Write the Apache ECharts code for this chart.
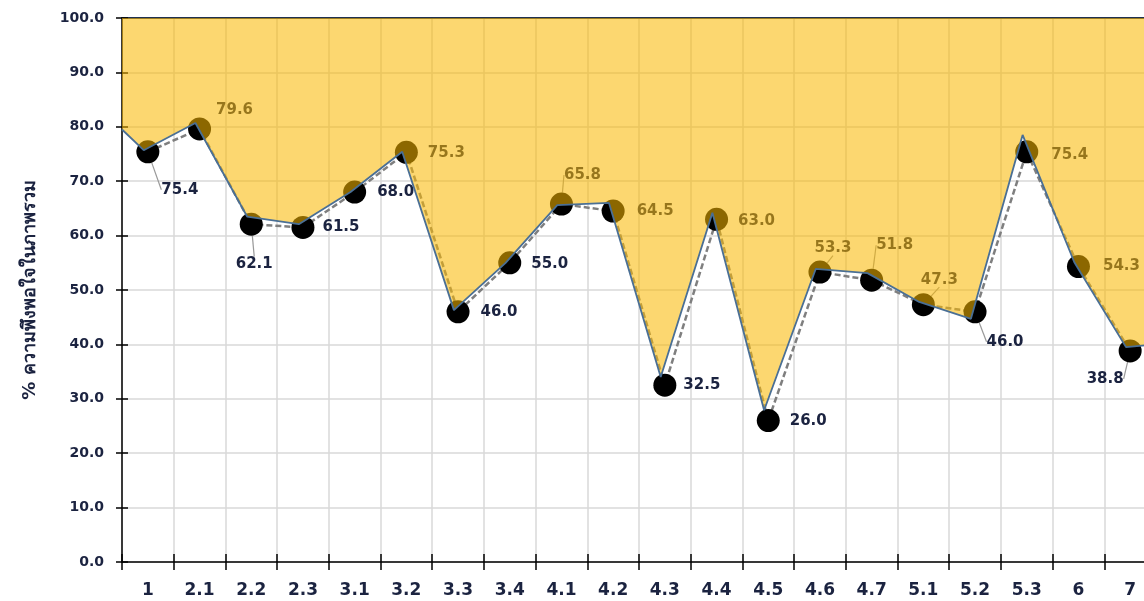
<!DOCTYPE html>
<html>
<head>
<meta charset="utf-8">
<script src="https://cdn.jsdelivr.net/npm/echarts@6/dist/echarts.min.js"></script>
<style>
html,body{margin:0;padding:0;background:#fff;overflow:hidden;width:1144px;height:601px;}
#chart{width:1156px;height:601px;}
</style>
</head>
<body>
<div id="chart"></div>
<script>
// ---- data ----
var categories = ['1','2.1','2.2','2.3','3.1','3.2','3.3','3.4','4.1','4.2','4.3','4.4','4.5','4.6','4.7','5.1','5.2','5.3','6','7'];
var satisfaction = [75.4,79.6,62.1,61.5,68.0,75.3,46.0,55.0,65.8,64.5,32.5,63.0,26.0,53.3,51.8,47.3,46.0,75.4,54.3,38.8];
// values of the filled (yellow) outline
var areaValues = [75.7,80.7,63.5,62.1,68.0,75.4,46.3,55.0,65.6,66.0,34.0,64.2,27.9,53.9,53.1,47.8,44.7,78.5,55.1,39.5];
var areaStartValue = 79.5;
var areaEndValue = 40.0;
var yTicks = [0,10,20,30,40,50,60,70,80,90,100];
var yAxisName = '% ความพึงพอใจในภาพรวม';

// ---- styles (label placement offsets, not data) ----
var labelOffsets = [[32,38],[35,-19],[3,40],[38,0],[41,0],[40,1],[41,0],[40,1],[21,-29],[42,0],[37,0],[40,2],[40,1],[13,-24],[23,-35],[16,-25],[30,30],[43,3],[43,0],[-25,28]];
var leaderIdx = [0,2,8,13,14,15,16,19];
var areaShift = -0.08;

var chart = echarts.init(document.getElementById('chart'));
var textColor = '#1b2340';
var font = '"DejaVu Sans", Verdana, sans-serif';

var areaData = [[0, areaStartValue]];
for (var i = 0; i < areaValues.length; i++) areaData.push([i + 0.5 + areaShift, areaValues[i]]);
areaData.push([categories.length, areaEndValue]);

var scatterData = satisfaction.map(function (v, i) {
  var item = { value: v };
  if (leaderIdx.indexOf(i) >= 0) item.labelLine = { show: true };
  return item;
});

var option = {
  animation: false,
  backgroundColor: '#ffffff',
  grid: { left: 122, right: 0, top: 18, bottom: 39, containLabel: false },
  xAxis: [
    {
      type: 'category', data: categories, position: 'bottom', boundaryGap: true,
      axisLine: { show: true, lineStyle: { color: '#000', width: 1.5 } },
      axisTick: { show: true, inside: false, length: 8, interval: 0, lineStyle: { color: '#000', width: 1.5 } },
      axisLabel: { color: textColor, fontFamily: font, fontWeight: 'bold', fontSize: 17, margin: 20, interval: 0 },
      splitLine: { show: true, interval: 0, lineStyle: { color: '#d9d9d9', width: 1.5 } }
    },
    {
      type: 'value', min: 0, max: categories.length, position: 'top',
      axisLine: { show: true, onZero: false, lineStyle: { color: '#1f3050', width: 2 } },
      axisTick: { show: false }, axisLabel: { show: false }, splitLine: { show: false }
    },
    {
      type: 'category', data: categories, position: 'bottom', boundaryGap: true,
      axisLine: { show: false },
      axisTick: { show: true, inside: true, length: 8, interval: 0, lineStyle: { color: '#000', width: 1.5 } },
      axisLabel: { show: false }, splitLine: { show: false }
    }
  ],
  yAxis: [
    {
      type: 'value', min: 0, max: 100, interval: 10,
      name: yAxisName, nameLocation: 'middle', nameRotate: 90, nameGap: 83,
      nameTextStyle: { color: textColor, fontFamily: font, fontWeight: 'bold', fontSize: 18 },
      axisLine: { show: true, lineStyle: { color: '#000', width: 1.5 } },
      axisTick: { show: true, inside: false, length: 6, lineStyle: { color: '#000', width: 1.5 } },
      axisLabel: { color: textColor, fontFamily: font, fontWeight: 'bold', fontSize: 14, margin: 18,
        formatter: function (v) { return v.toFixed(1); } },
      splitLine: { show: true, lineStyle: { color: '#d9d9d9', width: 1.5 } }
    },
    {
      type: 'value', min: 0, max: 100, interval: 10, position: 'left',
      axisLine: { show: false },
      axisTick: { show: true, inside: true, length: 6, lineStyle: { color: '#000', width: 1.5 } },
      axisLabel: { show: false }, splitLine: { show: false }
    }
  ],
  series: [
    {
      type: 'line', xAxisIndex: 0, yAxisIndex: 0, data: satisfaction, z: 2,
      symbol: 'none', lineStyle: { color: '#7f7f7f', width: 2.5, type: [6, 3] }
    },
    {
      type: 'scatter', xAxisIndex: 0, yAxisIndex: 0, data: scatterData, z: 3,
      symbol: 'circle', symbolSize: 23, itemStyle: { color: '#000', opacity: 1 },
      label: {
        show: true, position: 'inside', color: textColor, fontFamily: font, fontWeight: 'bold', fontSize: 15,
        formatter: function (p) { return p.value.toFixed(1); }
      },
      labelLine: { show: false, lineStyle: { color: '#999', width: 1.2 } },
      labelLayout: function (p) {
        var o = labelOffsets[p.dataIndex];
        return { dx: o[0], dy: o[1] };
      }
    },
    {
      type: 'line', xAxisIndex: 1, yAxisIndex: 0, data: areaData, z: 5,
      symbol: 'none',
      lineStyle: { color: '#4a6f95', width: 1.8 },
      areaStyle: { color: 'rgba(250,183,0,0.56)', opacity: 1, origin: 'end' }
    }
  ]
};
chart.setOption(option);
</script>
</body>
</html>
